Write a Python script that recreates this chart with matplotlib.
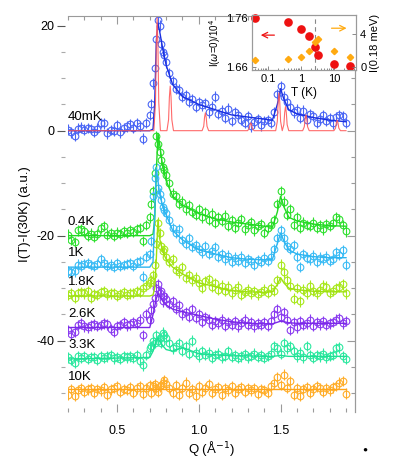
import matplotlib
matplotlib.use("Agg")
import numpy as np
import matplotlib.pyplot as plt
from matplotlib.ticker import MultipleLocator, FixedLocator, NullFormatter

plt.rcParams['font.family'] = ['Liberation Sans', 'DejaVu Sans']
plt.rcParams['axes.unicode_minus'] = False
plt.rcParams['mathtext.fontset'] = 'dejavusans'

OUT_FILE = "out.png"

# Q grid of the measured points (1/Angstrom)
Q = [0.20, 0.22, 0.24, 0.26, 0.28, 0.30, 0.32, 0.34, 0.36, 0.38,
     0.40, 0.42, 0.44, 0.46, 0.48, 0.50, 0.52, 0.54, 0.56, 0.58,
     0.60, 0.62, 0.64, 0.66, 0.68,
     0.70, 0.71, 0.72, 0.73, 0.74, 0.75, 0.76, 0.77, 0.78, 0.79,
     0.80, 0.82, 0.84, 0.86, 0.88, 0.90, 0.92, 0.94, 0.96, 0.98,
     1.00, 1.02, 1.04, 1.06, 1.08, 1.10, 1.12, 1.14, 1.16, 1.18,
     1.20, 1.22, 1.24, 1.26, 1.28, 1.30, 1.32, 1.34, 1.36, 1.38,
     1.40, 1.42, 1.44, 1.46, 1.48, 1.50, 1.52, 1.54, 1.56, 1.58,
     1.60, 1.62, 1.64, 1.66, 1.68, 1.70, 1.72, 1.74, 1.76, 1.78,
     1.80, 1.82, 1.84, 1.86, 1.88, 1.90]

LABELS = ["40mK", "0.4K", "1K", "1.8K", "2.6K", "3.3K", "10K"]
OFFSETS = [0, -20, -26, -31.5, -37.5, -43.5, -49.5]
YERR = [1.0, 1.0, 1.0, 1.0, 1.0, 1.0, 1.0]
DATA_COLORS = ["#4a66f5", "#2fe02f", "#3cbcf5", "#a8e81c", "#8a3cf0", "#2de8a0", "#ffae2a"]
LINE_COLORS = ["#1a2fe0", "#22d822", "#2cb4f0", "#9ee010", "#7a28e8", "#1ee094", "#ffa41a"]

# measured intensities, relative to each trace's offset
I_40MK = [0.2, -0.3, -1.0, 0.4, 0.6, 0.2, 0.5, 0.3, -0.2, 0.4,
          1.5, 1.4, -0.5, 0.1, 0.0, 1.0, -0.3, 0.5, 0.8, 1.2,
          0.6, 1.5, 0.9, -1.5, 1.5,
          3.0, 5.0, 9.0, 12.0, 17.5, 21.0, 20.0, 16.5, 15.0, 14.5,
          13.0, 11.0, 9.5, 8.0, 7.8, 6.5, 6.8, 5.5, 6.0, 4.5,
          5.5, 4.8, 5.2, 3.5, 4.6, 6.5, 3.2, 3.8, 2.5, 4.2,
          1.8, 3.5, 3.0, 2.0, 1.5, 2.8, 0.8, 1.6, 2.2, 1.0,
          1.8, 2.0, 1.5, 3.5, 7.0, 8.5, 6.5, 5.5, 4.5, 3.5,
          4.0, 2.5, 3.8, 2.0, 3.2, 2.8, 1.5, 2.2, 3.0, 1.8,
          2.4, 1.4, 2.6, 3.0, 2.8, 1.5]
I_04K = [0.2, -0.8, -1.2, 1.0, 1.2, 0.8, 0.0, 0.4, -0.2, 0.3,
         1.5, 1.8, 0.2, 0.5, 0.0, 0.6, 0.3, 0.8, 0.5, 1.0,
         0.7, 1.2, 1.5, -1.0, 2.0,
         3.5, 6.0, 8.5, 12.0, 19.0, 17.5, 16.0, 14.5, 13.0, 12.5,
         11.5, 10.0, 8.0, 7.5, 6.0, 6.5, 5.0, 5.8, 4.5, 4.0,
         5.0, 3.5, 4.5, 3.0, 4.2, 2.5, 3.5, 2.8, 3.8, 1.8,
         3.0, 1.5, 2.5, 3.2, 1.2, 2.0, 2.6, 1.0, 1.8, 2.2,
         0.5, 1.5, 2.0, 3.0, 6.0, 8.5, 6.5, 4.0, 5.0, 2.0,
         3.5, 1.5, 2.5, 2.0, 1.8, 2.5, 1.5, 2.0, 1.2, 2.2,
         1.8, 2.5, 3.5, 3.2, 2.0, 0.8]
I_1K = [-0.8, -1.0, -0.8, 0.5, 0.3, 0.6, 0.8, 0.4, 0.2, 0.6,
        1.5, 0.8, 0.3, 0.5, 0.0, 0.8, 0.2, 0.4, 0.6, 0.8,
        0.3, 1.0, 1.2, -1.8, 2.0,
        2.5, 5.0, 13.5, 17.0, 19.0, 15.0, 14.0, 12.8, 11.5, 10.8,
        10.3, 9.0, 7.5, 6.5, 7.2, 5.2, 4.5, 5.5, 3.8, 4.2,
        3.5, 2.8, 4.0, 2.5, 3.0, 3.8, 2.0, 2.5, 1.5, 2.2,
        1.0, 1.8, 1.2, 2.0, 0.8, 1.5, 1.2, 0.5, 1.4, 1.0,
        1.8, 1.2, 2.0, 3.5, 5.5, 7.0, 5.5, 4.0, 3.5, 4.2,
        2.0, 0.0, 2.5, 1.8, 1.5, 2.2, 1.0, 1.8, 1.5, 2.0,
        1.2, 1.6, 2.8, 2.4, 3.2, 0.5]
I_18K = [0.2, 0.5, -0.3, 0.6, 0.8, 0.5, 1.0, -0.3, 0.4, 0.2,
         0.8, 1.0, 0.3, 0.5, 0.6, 0.0, 0.4, 0.8, 0.2, 0.5,
         0.6, 1.0, 0.8, 1.5, 2.0,
         2.5, 3.0, 4.0, 6.0, 10.0, 14.0, 12.0, 9.5, 8.5, 9.0,
         7.5, 6.5, 7.0, 5.0, 4.5, 5.5, 3.5, 4.0, 3.0, 3.5,
         2.5, 1.5, 2.8, 3.2, 1.8, 2.5, 1.2, 2.0, 1.0, 1.8,
         0.5, 1.2, 1.8, 0.2, 0.8, 1.2, 0.5, 1.0, 0.3, 0.8,
         1.2, 0.6, 1.5, 1.0, 3.0, 6.0, 4.5, 3.0, 2.0, -0.5,
         1.5, -1.0, 1.2, 0.5, 2.0, 1.0, 0.5, 1.2, 2.0, 1.8,
         0.6, 1.0, 1.5, 1.8, 2.2, 0.5]
I_26K = [-0.5, -1.2, -0.8, 0.5, 0.8, 0.2, 0.0, 0.4, 0.6, 0.3,
         0.5, 0.8, 0.6, -0.3, -0.8, 0.2, 0.5, 1.0, 0.4, 0.6,
         1.0, 0.8, 1.5, -1.5, 2.5,
         1.5, 3.3, 4.5, 5.6, 7.5, 8.3, 6.5, 7.0, 5.0, 6.0,
         5.5, 4.5, 5.0, 3.5, 4.2, 2.5, 3.0, 2.0, 3.5, 1.8,
         2.5, 1.0, 2.0, 1.5, 0.5, 1.2, 0.8, 1.5, 0.3, 1.0,
         0.5, 1.2, 0.2, 0.8, 1.5, 0.5, 1.0, 0.2, 0.8, 0.5,
         1.0, 0.3, 1.2, 2.5, 3.5, 2.0, 3.0, 1.5, -0.5, 1.0,
         0.0, 1.2, 0.5, 0.8, 1.5, 0.3, 1.0, 0.6, 1.2, 0.5,
         0.8, 1.0, 1.5, 1.8, 0.8, 1.2]
I_33K = [0.3, -0.2, -0.8, 0.5, 0.2, 0.6, 0.0, 0.4, 0.3, -0.2,
         0.6, 0.2, 0.5, 0.8, 0.1, 0.4, 0.0, 0.6, 0.3, 0.5,
         0.2, 0.8, -0.3, -1.2, 0.8,
         2.0, 2.5, 3.5, 3.0, 4.5, 3.5, 4.0, 3.0, 5.0, 4.5,
         4.0, 3.0, 2.0, 2.5, 3.0, 1.5, 2.5, 1.0, 3.5, 1.2,
         0.5, 1.5, 0.8, 1.2, 0.2, 0.8, 1.0, 0.3, 0.6, 1.5,
         0.4, 0.8, 0.2, 0.5, 0.9, 0.3, 0.6, 1.0, 0.4, 0.7,
         0.2, 0.6, 1.0, 2.5, 2.0, 1.0, 3.0, 2.0, 2.5, 1.5,
         0.5, 1.2, 0.3, 2.5, 0.8, 0.2, 0.8, 0.5, 1.0, 0.3,
         0.6, 0.8, 2.0, 2.2, 0.5, 0.0]
I_10K = [-0.8, 0.3, -1.0, 0.0, 0.5, -0.3, 0.2, 0.4, -0.5, 0.3,
         0.0, 0.6, -0.8, 0.2, 0.5, 0.8, -0.2, 0.3, 0.1, 0.6,
         -0.4, 0.4, 0.8, -0.6, 0.5,
         1.0, -0.5, 0.8, 1.2, 0.5, -0.3, 0.8, 1.0, 1.5, 2.0,
         1.2, 0.5, -0.5, 1.0, -0.8, 0.5, 1.5, -0.5, 0.3, -1.0,
         0.8, -0.3, 0.5, 1.2, -0.5, 0.2, 0.6, -0.8, 0.4, 0.0,
         0.8, -0.4, 0.3, 0.6, -0.2, 0.4, 0.0, 0.5, -0.6, 0.3,
         0.1, -0.5, 0.8, 1.5, 2.5, 1.0, 3.0, 0.5, 1.8, -0.8,
         0.5, -1.0, 0.3, 0.6, -0.4, 0.2, 0.8, 0.4, -0.3, 0.5,
         0.0, 0.6, 0.9, 1.5, 1.8, -0.6]

# fitted curves, sampled at knots
Q_FIT = [0.20, 0.70, 0.72, 0.73, 0.74, 0.75, 0.76, 0.78, 0.80, 0.84,
         0.90, 1.00, 1.10, 1.20, 1.30, 1.40, 1.45, 1.48, 1.50, 1.52,
         1.55, 1.60, 1.70, 1.80, 1.90]
FIT_40MK = [0, 0, 0.3, 5.0, 17.0, 20.5, 19.0, 15.5, 12.5, 8.8,
            6.5, 5.0, 4.0, 3.0, 2.6, 2.2, 2.0, 5.0, 8.0, 6.0,
            4.0, 3.2, 2.5, 2.0, 1.7]
FIT_04K = [0, 0, 0.3, 3.0, 12.0, 19.5, 17.5, 13.0, 10.5, 7.5,
           5.8, 4.2, 3.2, 2.6, 2.2, 1.8, 1.6, 4.5, 7.5, 5.5,
           3.5, 2.8, 2.2, 1.9, 1.8]
FIT_1K = [0, 0, 1.0, 10.0, 19.0, 16.5, 14.0, 11.5, 10.0, 7.0,
          5.2, 3.3, 2.5, 1.8, 1.5, 1.4, 1.5, 4.5, 6.5, 5.0,
          3.3, 2.5, 2.0, 1.8, 1.8]
FIT_18K = [0, 0, 0.2, 1.5, 7.0, 14.5, 11.0, 8.5, 7.0, 5.5,
           4.2, 2.5, 1.8, 1.0, 0.8, 0.7, 0.8, 2.2, 3.5, 2.5,
           1.5, 1.2, 0.9, 0.8, 0.8]
FIT_26K = [0, 0, 2.5, 4.0, 5.5, 6.5, 6.0, 5.0, 4.3, 3.5,
           3.0, 2.3, 1.6, 1.1, 0.8, 0.7, 0.7, 1.0, 1.2, 1.1,
           0.9, 0.8, 0.8, 0.8, 0.8]
FIT_33K = [0, 0.3, 1.5, 2.5, 3.5, 4.0, 3.5, 2.5, 1.8, 1.5,
           2.2, 1.0, 0.8, 0.6, 0.6, 0.5, 0.5, 0.6, 0.7, 0.6,
           0.5, 0.5, 0.5, 0.5, 0.5]
FIT_10K = [0.3, 0.3, 0.3, 0.3, 0.3, 0.3, 0.3, 0.3, 0.3, 0.3,
           0.3, 0.3, 0.3, 0.3, 0.3, 0.3, 0.3, 0.3, 0.3, 0.3,
           0.3, 0.3, 0.3, 0.3, 0.3]

# calculated Bragg pattern drawn with the 40mK trace
RED_Q = [0.20, 0.725, 0.735, 0.740, 0.745, 0.750, 0.755, 0.765,
         0.805, 0.815, 0.820, 0.825, 0.830, 0.835, 0.845,
         1.020, 1.030, 1.035, 1.040, 1.045, 1.050, 1.060,
         1.298, 1.308, 1.313, 1.318, 1.323, 1.328, 1.338,
         1.470, 1.480, 1.485, 1.490, 1.495, 1.500, 1.510,
         1.520, 1.525, 1.530, 1.535, 1.540, 1.550,
         1.635, 1.645, 1.650, 1.655, 1.660, 1.665, 1.675,
         1.826, 1.836, 1.841, 1.846, 1.851, 1.856, 1.866, 1.90]
RED_I = [0, 0, 5.4, 16.1, 21.5, 16.1, 5.4, 0,
         0, 2.1, 6.4, 8.5, 6.4, 2.1, 0,
         0, 0.85, 2.55, 3.4, 2.55, 0.85, 0,
         0, 0.4, 1.1, 1.5, 1.1, 0.4, 0,
         0, 1.8, 5.4, 7.2, 5.4, 1.8, 0,
         1.15, 3.45, 4.6, 3.45, 1.15, 0,
         0, 0.75, 2.25, 3.0, 2.25, 0.75, 0,
         0, 0.5, 1.5, 2.0, 1.5, 0.5, 0, 0]

# inset: temperature dependence
T_INSET = [0.04, 0.4, 1.0, 1.8, 2.6, 3.3, 10, 30]
I_ELASTIC = [1.760, 1.7525, 1.737, 1.723, 1.700, 1.685, 1.666, 1.662]
I_018MEV = [0.85, 1.0, 1.25, 2.0, 3.0, 3.4, 1.95, 1.2]
T_TRANSITION = 2.7

TRACES = [I_40MK, I_04K, I_1K, I_18K, I_26K, I_33K, I_10K]
FITS = [FIT_40MK, FIT_04K, FIT_1K, FIT_18K, FIT_26K, FIT_33K, FIT_10K]

SPINE_GRAY = "#9a9a9a"


def draw_main(fig):
    ax = fig.add_axes([68 / 395, 1 - 412 / 471, 287 / 395, 396 / 471])
    q = np.array(Q)
    for vals, fit, off, err, dc, lc, lab in zip(TRACES, FITS, OFFSETS, YERR,
                                                 DATA_COLORS, LINE_COLORS, LABELS):
        y = np.array(vals) + off
        ax.errorbar(q, y, yerr=err, fmt='o', ms=4.8, mfc='none', mec=dc, mew=0.8,
                    ecolor=dc, elinewidth=0.8, capsize=0, zorder=2)
        ax.plot(Q_FIT, np.array(fit) + off, color=lc, lw=1.0, zorder=3)
        ax.text(0.2, off + 2.6, lab, fontsize=9.5, ha='left', va='center')
    ax.plot(RED_Q, RED_I, color='#ff5a5a', lw=0.8, alpha=0.9, zorder=4)

    ax.set_xlim(0.2, 1.955)
    ax.set_ylim(-53.6, 21.85)
    for s in ['left', 'bottom']:
        ax.spines[s].set_visible(False)
    for s in ['top', 'right']:
        ax.spines[s].set_color(SPINE_GRAY)
        ax.spines[s].set_linewidth(0.8)
    ax.spines['left'].set_position(('outward', 2))

    ax.xaxis.set_major_locator(FixedLocator([0.5, 1.0, 1.5]))
    ax.xaxis.set_minor_locator(MultipleLocator(0.1))
    ax.set_xticklabels(["0.5", "1.0", "1.5"])
    ax.tick_params(axis='x', which='both', direction='in', top=True, bottom=True,
                   color=SPINE_GRAY, width=0.8, labelsize=9, pad=9)
    ax.tick_params(axis='x', which='major', length=6)
    ax.tick_params(axis='x', which='minor', length=3)

    ax.yaxis.set_major_locator(MultipleLocator(20))
    ax.yaxis.set_minor_locator(MultipleLocator(5))
    ax.tick_params(axis='y', which='both', direction='out', right=False,
                   color='#555555', width=0.8, labelsize=9, pad=2)
    ax.tick_params(axis='y', which='major', length=6)
    ax.tick_params(axis='y', which='minor', length=3, color='#aaaaaa')

    # inward ticks on the right frame
    axr = ax.twinx()
    axr.set_ylim(ax.get_ylim())
    axr.yaxis.set_major_locator(MultipleLocator(20))
    axr.yaxis.set_minor_locator(MultipleLocator(5))
    axr.yaxis.set_major_formatter(NullFormatter())
    axr.tick_params(axis='y', which='both', direction='in', color=SPINE_GRAY, width=0.8)
    axr.tick_params(axis='y', which='major', length=6)
    axr.tick_params(axis='y', which='minor', length=3)
    for s in ['left', 'bottom', 'top']:
        axr.spines[s].set_visible(False)
    axr.spines['right'].set_color(SPINE_GRAY)
    axr.spines['right'].set_linewidth(0.8)

    ax.set_xlabel("Q (Å$^{-1}$)", fontsize=9.5, labelpad=2)
    ax.set_ylabel("I(T)-I(30K) (a.u.)", fontsize=9.5, labelpad=4)
    return ax


def draw_inset(fig):
    ins = fig.add_axes([252 / 395, 1 - 70 / 471, 104 / 395, 55 / 471])
    ins.set_xscale('log')
    ins.axvline(T_TRANSITION, color='#888888', lw=0.8, ls=(0, (4, 3)), zorder=1)
    ins.plot(T_INSET, I_ELASTIC, 'o', color='#ee1111', ms=5.2, zorder=3, clip_on=False)
    ins.set_xlim(0.033, 46)
    ins.set_ylim(1.654, 1.766)
    ins.set_yticks([1.66, 1.76])
    ins.set_yticklabels(["1.66", "1.76"])
    ins.set_xticks([0.1, 1, 10])
    ins.set_xticklabels(["0.1", "1", "10"])
    ins.tick_params(which='both', direction='in', labelsize=8, color='#777777',
                    width=0.6, pad=3)
    ins.tick_params(which='major', length=3)
    ins.tick_params(which='minor', length=1.5)
    for s in ins.spines.values():
        s.set_color(SPINE_GRAY)
        s.set_linewidth(0.8)
    ins.set_xlabel("T (K)", fontsize=8.5, labelpad=2)
    ins.set_ylabel(r"I($\omega$=0)/10$^4$", fontsize=7, labelpad=2)
    ins.annotate("", xy=(0.05, 1.725), xytext=(0.19, 1.725),
                 arrowprops=dict(arrowstyle='->', color='#ee1111', lw=0.9))

    ins2 = ins.twinx()
    ins2.plot(T_INSET, I_018MEV, 'D', color='#ffaa11', ms=3.2, zorder=3, clip_on=False)
    ins2.set_ylim(-0.36, 6.3)
    ins2.set_yticks([0, 4])
    ins2.set_yticklabels(["0", "4"])
    ins2.tick_params(direction='in', labelsize=8, color='#777777', width=0.6,
                     length=3, pad=3)
    for s in ins2.spines.values():
        s.set_color(SPINE_GRAY)
        s.set_linewidth(0.8)
    ins2.set_ylabel("I(0.18 meV)", fontsize=8, labelpad=3)
    ins2.annotate("", xy=(29, 4.7), xytext=(6.9, 4.7),
                  arrowprops=dict(arrowstyle='->', color='#ffaa11', lw=0.9))
    return ins


def main():
    fig = plt.figure(figsize=(3.95, 4.71), dpi=100)
    draw_main(fig)
    draw_inset(fig)
    fig.text(365 / 395, 1 - 450 / 471, "●", fontsize=6, ha='center', va='center')
    fig.savefig(OUT_FILE, dpi=100)
    plt.close(fig)


if __name__ == "__main__":
    main()
